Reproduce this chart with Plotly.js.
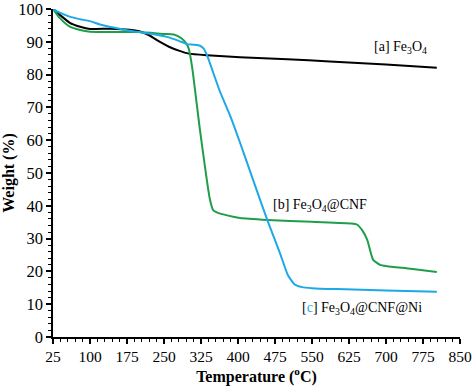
<!DOCTYPE html>
<html>
<head>
<meta charset="utf-8">
<script src="https://cdn.plot.ly/plotly-3.0.1.min.js"></script>
<style>html,body{margin:0;padding:0;background:#fff}#chart{width:474px;height:389px}</style>
</head>
<body>
<div id="chart"></div>
<script>
// Fe3O4 (black)
const tempA = [25, 39, 59, 80, 100, 141, 180, 200, 220, 240, 260, 280, 300, 337, 404, 500, 586, 700, 803];
const wtA   = [100, 98.2, 95.8, 94.6, 93.9, 94.0, 93.7, 93.2, 92.0, 90.1, 88.5, 87.3, 86.4, 85.9, 85.3, 84.7, 84.0, 83.1, 82.1];
// Fe3O4@CNF (green)
const tempB = [25, 39, 59, 80, 100, 140, 200, 250, 270, 286, 295, 300, 307, 323, 343, 350, 357, 380, 404, 460, 550, 630, 641, 652, 662, 674, 688, 702, 750, 803];
const wtB   = [100, 97.2, 94.6, 93.6, 93.1, 93.0, 93.0, 92.4, 92.2, 91.0, 89.5, 88.0, 82.3, 63.0, 42.0, 38.6, 38.0, 37.0, 36.3, 35.7, 35.1, 34.6, 34.3, 32.5, 29.6, 23.5, 22.0, 21.6, 20.8, 19.8];
// Fe3O4@CNF@Ni (blue)
const tempC = [25, 40, 60, 80, 100, 120, 150, 187, 220, 256, 280, 297, 310, 323, 330, 337, 350, 363, 384, 404, 435, 461, 485, 501, 515, 530, 550, 600, 700, 803];
const wtC   = [100, 98.8, 97.6, 96.9, 96.3, 95.3, 94.3, 93.2, 92.5, 91.5, 90.3, 89.3, 89.1, 88.8, 88.0, 86.0, 80.5, 75.0, 67.5, 59.3, 46.0, 35.0, 25.6, 18.9, 16.0, 15.2, 14.9, 14.6, 14.2, 13.8];

const xTicks = [25, 100, 175, 250, 325, 400, 475, 550, 625, 700, 775, 850];
const yTicks = [0, 10, 20, 30, 40, 50, 60, 70, 80, 90, 100];

const black = '#000000', green = '#1f9e4a', blue = '#1ca9e6';
const lineStyle = (c) => ({color: c, width: 2, shape: 'spline', smoothing: 0.5});

const data = [
  {x: tempA, y: wtA, mode: 'lines', line: lineStyle(black), name: 'Fe3O4'},
  {x: tempB, y: wtB, mode: 'lines', line: lineStyle(green), name: 'Fe3O4@CNF'},
  {x: tempC, y: wtC, mode: 'lines', line: lineStyle(blue), name: 'Fe3O4@CNF@Ni'}
];

const serif = '"Liberation Serif", "Times New Roman", serif';
const layout = {
  width: 474, height: 389,
  margin: {l: 53, r: 14, t: 9, b: 52},
  paper_bgcolor: '#fff', plot_bgcolor: '#fff',
  showlegend: false,
  font: {family: serif, color: '#000', size: 15},
  xaxis: {
    range: [25, 850], tickvals: xTicks, ticktext: xTicks.map(String),
    showline: true, linecolor: '#000', linewidth: 1.5,
    ticks: 'outside', ticklen: 5, tickwidth: 1.5, tickcolor: '#000',
    minor: {dtick: 15, tick0: 25, ticks: 'outside', ticklen: 3, tickwidth: 1, tickcolor: '#000', showgrid: false},
    showgrid: false, zeroline: false, ticklabeloverflow: 'allow',
    tickfont: {family: serif, size: 15.5},
    title: {text: '<b>Temperature (<sup>o</sup>C)</b>', font: {family: serif, size: 16}, standoff: 6}
  },
  yaxis: {
    range: [0, 100], tickvals: yTicks, ticktext: yTicks.map(String),
    showline: true, linecolor: '#000', linewidth: 1.5,
    ticks: 'outside', ticklen: 5, tickwidth: 1.5, tickcolor: '#000',
    minor: {dtick: 2, tick0: 0, ticks: 'outside', ticklen: 3, tickwidth: 1, tickcolor: '#000', showgrid: false},
    showgrid: false, zeroline: false, ticklabeloverflow: 'allow',
    tickfont: {family: serif, size: 16.5},
    title: {text: '<b>Weight (%)</b>', font: {family: serif, size: 16}, standoff: 2}
  },
  annotations: [
    {x: 730, y: 88.4, xref: 'x', yref: 'y', text: '[a] Fe<sub>3</sub>O<sub>4</sub>', showarrow: false, font: {family: serif, size: 14, color: '#000'}},
    {x: 566, y: 40.2, xref: 'x', yref: 'y', text: '[b] Fe<sub>3</sub>O<sub>4</sub>@CNF', showarrow: false, font: {family: serif, size: 14, color: '#000'}},
    {x: 651, y: 8.8, xref: 'x', yref: 'y', text: '[<span style="color:' + blue + '">c</span>] Fe<sub>3</sub>O<sub>4</sub>@CNF@Ni', showarrow: false, font: {family: serif, size: 14, color: '#000'}}
  ]
};

Plotly.newPlot('chart', data, layout, {displayModeBar: false});
</script>
</body>
</html>
